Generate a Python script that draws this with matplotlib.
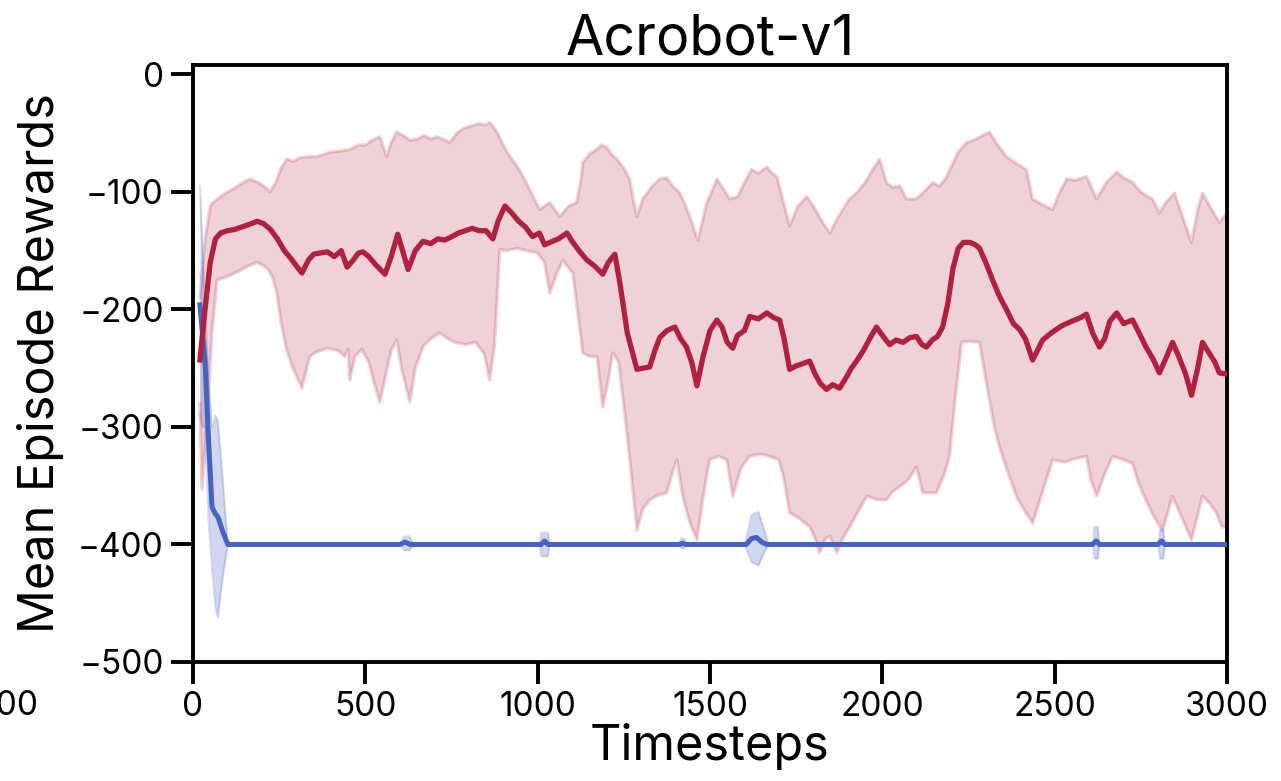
import numpy as np
import matplotlib
matplotlib.use("Agg")
import matplotlib.pyplot as plt

plt.rcParams['font.family'] = ['Inter', 'DejaVu Sans']

# --- red run: mean reward and spread ---
red_t = [20, 35, 50, 65, 80, 100, 120, 140, 160, 186, 205, 225, 245, 265, 285, 300, 316, 335, 350, 368,
         390, 410, 430, 447, 465, 480, 493, 510, 530, 557, 575, 594, 610, 624, 645, 667, 690, 710, 730, 745,
         770, 790, 810, 830, 850, 870, 885, 905, 925, 945, 965, 985, 1005, 1020, 1035, 1060, 1085, 1100, 1120, 1143,
         1165, 1189, 1205, 1224, 1240, 1260, 1288, 1305, 1325, 1340, 1354, 1375, 1398, 1415, 1432, 1447, 1462, 1480, 1500, 1520,
         1535, 1550, 1566, 1580, 1600, 1615, 1640, 1665, 1685, 1702, 1715, 1731, 1750, 1770, 1789, 1805, 1820, 1838, 1856, 1876,
         1895, 1910, 1925, 1945, 1965, 1983, 2000, 2021, 2040, 2060, 2080, 2099, 2115, 2128, 2145, 2160, 2175, 2190, 2205, 2220,
         2235, 2255, 2270, 2282, 2300, 2320, 2340, 2360, 2380, 2398, 2415, 2436, 2450, 2465, 2490, 2520, 2550, 2575, 2592, 2610,
         2630, 2645, 2660, 2680, 2700, 2726, 2745, 2765, 2785, 2804, 2825, 2842, 2860, 2880, 2897, 2915, 2929, 2950, 2965, 2978,
         3000]
red_mean = [-243, -200, -160, -140, -135, -133, -132, -130, -128, -125, -127, -132, -140, -150, -157, -163, -169, -158, -153, -152,
            -151, -155, -150, -164, -158, -152, -151, -155, -162, -170, -155, -136, -152, -166, -150, -142, -144, -140, -141, -139,
            -135, -133, -131, -133, -133, -140, -125, -112, -118, -125, -130, -138, -135, -145, -143, -140, -135, -142, -150, -158,
            -163, -170, -160, -153, -180, -220, -251, -250, -249, -235, -224, -218, -215, -225, -232, -245, -265, -240, -218, -209,
            -215, -228, -233, -222, -218, -206, -208, -203, -207, -209, -225, -251, -248, -246, -244, -255, -263, -268, -264, -267,
            -258, -250, -244, -235, -224, -215, -222, -230, -226, -228, -224, -223, -230, -232, -226, -223, -215, -195, -165, -148,
            -143, -143, -145, -148, -160, -175, -189, -200, -212, -217, -225, -243, -235, -226, -220, -214, -210, -207, -204, -220,
            -232, -225, -210, -203, -212, -209, -220, -232, -242, -254, -240, -228, -240, -255, -273, -250, -228, -238, -245, -254,
            -255]

red_up_t = [20, 35, 50, 58, 80, 100, 120, 140, 165, 190, 210, 223, 240, 255, 272, 290, 310, 330, 360, 380,
            400, 430, 455, 480, 500, 520, 542, 562, 575, 591, 610, 630, 650, 670, 690, 708, 725, 745, 765, 785,
            805, 830, 850, 861, 880, 900, 920, 940, 960, 980, 1006, 1020, 1035, 1050, 1064, 1090, 1113, 1125, 1131, 1150,
            1170, 1186, 1200, 1215, 1230, 1250, 1267, 1280, 1288, 1305, 1330, 1354, 1374, 1395, 1410, 1421, 1440, 1465, 1490, 1520,
            1540, 1557, 1580, 1600, 1621, 1640, 1665, 1680, 1694, 1710, 1731, 1755, 1781, 1800, 1825, 1848, 1865, 1885, 1905, 1925,
            1950, 1970, 1992, 2012, 2030, 2051, 2070, 2099, 2120, 2146, 2166, 2185, 2201, 2220, 2244, 2265, 2290, 2311, 2330, 2360,
            2390, 2418, 2436, 2460, 2494, 2515, 2535, 2560, 2592, 2610, 2622, 2650, 2680, 2700, 2726, 2750, 2770, 2784, 2804, 2825,
            2848, 2870, 2897, 2915, 2929, 2950, 2978, 3000]
red_upper = [-190, -140, -112, -109, -104, -100, -97, -93, -89, -92, -96, -100, -92, -80, -72, -74, -71, -70, -70, -68,
             -66, -65, -64, -60, -60, -56, -53, -70, -58, -49, -52, -56, -55, -52, -55, -53, -55, -58, -50, -46,
             -44, -42, -43, -41, -48, -60, -70, -78, -88, -100, -115, -112, -109, -115, -121, -112, -109, -90, -75, -68,
             -64, -60, -62, -68, -72, -80, -89, -110, -121, -106, -96, -89, -88, -96, -100, -106, -120, -141, -110, -89,
             -98, -106, -104, -92, -81, -84, -79, -84, -87, -105, -129, -112, -104, -112, -125, -135, -125, -115, -106, -101,
             -92, -82, -72, -92, -96, -95, -106, -106, -100, -92, -95, -88, -78, -66, -58, -56, -52, -49, -58, -70,
             -76, -81, -106, -110, -115, -100, -89, -90, -87, -98, -106, -92, -83, -88, -92, -100, -104, -106, -118, -108,
             -101, -120, -143, -115, -101, -112, -126, -118]

red_lo_t = [20, 26, 40, 55, 70, 100, 130, 160, 186, 205, 218, 230, 243, 255, 272, 290, 316, 330, 339, 360,
            390, 420, 440, 450, 455, 470, 490, 510, 525, 542, 560, 575, 591, 605, 629, 645, 667, 690, 716, 740,
            760, 790, 820, 845, 861, 875, 890, 910, 940, 970, 1000, 1020, 1035, 1055, 1073, 1090, 1102, 1115, 1131, 1150,
            1172, 1189, 1205, 1218, 1235, 1259, 1275, 1288, 1305, 1325, 1350, 1374, 1390, 1404, 1421, 1440, 1462, 1480, 1499, 1525,
            1549, 1566, 1590, 1615, 1645, 1673, 1700, 1715, 1731, 1760, 1789, 1805, 1818, 1835, 1848, 1868, 1885, 1905, 1930, 1955,
            1985, 2012, 2030, 2050, 2075, 2099, 2117, 2140, 2157, 2180, 2195, 2210, 2230, 2255, 2282, 2300, 2311, 2325, 2340, 2360,
            2389, 2410, 2436, 2465, 2494, 2530, 2560, 2592, 2605, 2622, 2645, 2668, 2700, 2726, 2740, 2755, 2785, 2813, 2842, 2870,
            2897, 2915, 2929, 2950, 2969, 2985, 3000]
red_lower = [-280, -353, -300, -220, -175, -172, -168, -163, -160, -163, -166, -172, -186, -210, -235, -250, -267, -250, -240, -236,
             -233, -235, -240, -234, -260, -240, -234, -245, -262, -279, -255, -235, -226, -250, -279, -250, -232, -225, -220, -225,
             -228, -230, -228, -238, -260, -230, -149, -150, -148, -150, -152, -160, -186, -170, -158, -165, -169, -200, -237, -240,
             -240, -283, -260, -237, -245, -305, -350, -388, -370, -362, -358, -356, -340, -328, -359, -380, -396, -360, -328, -325,
             -328, -359, -335, -325, -323, -325, -328, -345, -373, -378, -385, -395, -407, -395, -393, -407, -395, -385, -372, -359,
             -362, -362, -355, -351, -345, -334, -356, -356, -356, -340, -325, -280, -228, -227, -228, -260, -277, -300, -317, -335,
             -359, -370, -382, -355, -328, -330, -327, -325, -345, -359, -340, -325, -328, -331, -345, -356, -375, -388, -359, -378,
             -396, -375, -359, -365, -373, -385, -385]

# --- blue run: collapses to -400 almost immediately ---
blue_t = [20, 35, 45, 55, 65, 73, 85, 101, 600, 615, 630, 1010, 1020, 1030, 1410, 1420, 1430,
          1605, 1620, 1635, 1650, 1665, 2610, 2620, 2630, 2800, 2810, 2820, 3000]
blue_mean = [-196, -245, -310, -368, -374, -377, -388, -400, -400, -398, -400, -400, -397, -400, -400, -399, -400,
             -400, -395, -394, -398, -400, -400, -397, -400, -400, -397, -400, -400]

blue_band_t = [20, 28, 35, 45, 55, 65, 72, 85, 101, 600, 612, 628, 640, 1005, 1010, 1030, 1035, 1410, 1415, 1425, 1430,
               1600, 1620, 1640, 1660, 1670, 2610, 2615, 2625, 2630, 2800, 2805, 2815, 2820, 3000]
blue_upper = [-95, -150, -200, -260, -300, -290, -295, -340, -400, -400, -393, -393, -400, -400, -390, -390, -400, -400, -395, -395, -400,
              -400, -375, -372, -390, -400, -400, -385, -385, -400, -400, -387, -387, -400, -400]
blue_lower = [-290, -300, -300, -380, -420, -455, -462, -430, -400, -400, -405, -405, -400, -400, -410, -410, -400, -400, -403, -403, -400,
              -400, -415, -418, -405, -400, -400, -412, -412, -400, -400, -412, -412, -400, -400]

RED = '#B0203F'
BLUE = '#4763C0'

fig = plt.figure(figsize=(12.81, 7.81), dpi=100)
ax = fig.add_axes([193 / 1281, 1 - 662 / 781, (1227 - 193) / 1281, (662 - 65) / 781])

# shaded spread for each run
ax.fill(np.concatenate([red_up_t, red_lo_t[::-1]]), np.concatenate([red_upper, red_lower[::-1]]),
        color=RED, alpha=0.2, lw=0, zorder=1)
ax.plot(red_up_t, red_upper, color=RED, alpha=0.2, lw=2.4, zorder=1)
ax.plot(red_lo_t, red_lower, color=RED, alpha=0.2, lw=2.4, zorder=1)

ax.fill_between(blue_band_t, blue_lower, blue_upper, color=BLUE, alpha=0.25, lw=0, zorder=2)
ax.plot(blue_band_t, blue_upper, color=BLUE, alpha=0.2, lw=1.5, zorder=2)
ax.plot(blue_band_t, blue_lower, color=BLUE, alpha=0.2, lw=1.5, zorder=2)

ax.plot(blue_t, blue_mean, color=BLUE, lw=3.6, zorder=3, solid_joinstyle='round')
ax.plot(red_t, red_mean, color=RED, lw=3.8, zorder=4, solid_joinstyle='round')

ax.set_xlim(0, 3000)
ax.set_ylim(-500, 8)
ax.set_xticks([0, 500, 1000, 1500, 2000, 2500, 3000])
ax.set_yticks([-500, -400, -300, -200, -100, 0])
ax.set_yticklabels(['\u2212500', '\u2212400', '\u2212300', '\u2212200', '\u2212100', '0'])

for s in ax.spines.values():
    s.set_linewidth(2.8)
ax.tick_params(direction='out', length=16, width=2.8, labelsize=24, pad=5)

ax.set_title('Acrobot-v1', fontsize=40, pad=6)
ax.set_xlabel('Timesteps', fontsize=35, labelpad=0)
ax.set_ylabel('Mean Episode Rewards', fontsize=35, labelpad=10)

# last tick label of the neighbouring panel, cut at the left edge
fig.text(-3 / 1281, 1 - 706 / 781, '3000', fontsize=24, ha='center', va='center')

fig.savefig('out.png', dpi=100)
